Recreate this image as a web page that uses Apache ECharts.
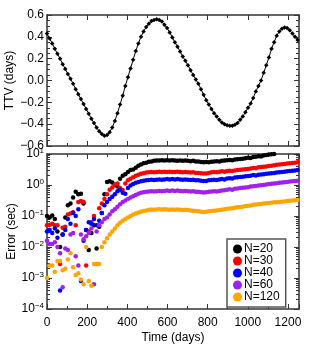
<!DOCTYPE html>
<html><head><meta charset="utf-8">
<script src="https://cdn.jsdelivr.net/npm/echarts@6/dist/echarts.min.js"></script>
<style>html,body{margin:0;padding:0;background:#fff}#c{width:315px;height:350px}</style>
</head><body><div id="c"></div>
<script>
// Observation times (days)
const times = [0,13,26,39,52,65,78,91,104,117,130,143,156,169,182,195,208,221,234,247,260,273,286,299,312,325,338,351,364,377,390,403,416,429,442,455,468,481,494,507,520,533,546,559,572,585,598,611,624,637,650,663,676,689,702,715,728,741,754,767,780,793,806,819,832,845,858,871,884,897,910,923,936,949,962,975,988,1001,1014,1027,1040,1053,1066,1079,1092,1105,1118,1131,1144,1157,1170,1183,1196,1209,1222,1235,1248];

// TTV (days)
const ttv = [0.43,0.385,0.34,0.29,0.245,0.20,0.15,0.105,0.06,0.015,-0.03,-0.08,-0.125,-0.17,-0.215,-0.26,-0.305,-0.35,-0.39,-0.43,-0.465,-0.49,-0.505,-0.50,-0.475,-0.43,-0.37,-0.30,-0.22,-0.14,-0.05,0.03,0.11,0.19,0.27,0.34,0.40,0.45,0.49,0.52,0.545,0.555,0.56,0.555,0.54,0.51,0.48,0.44,0.395,0.35,0.31,0.265,0.22,0.18,0.14,0.095,0.05,0.01,-0.03,-0.08,-0.13,-0.18,-0.22,-0.26,-0.30,-0.33,-0.36,-0.385,-0.40,-0.41,-0.415,-0.415,-0.405,-0.39,-0.36,-0.33,-0.29,-0.25,-0.21,-0.16,-0.10,-0.05,0.00,0.07,0.14,0.21,0.29,0.35,0.41,0.45,0.475,0.485,0.48,0.46,0.43,0.40,0.37];

// Timing errors, given as log10(sec)
const errN20 = [-1.0,-1.05,-0.98,-1.1,-1.5,-2.0,-1.6,-1.05,-0.65,-0.6,-0.4,-0.22,-0.3,-0.28,-0.6,-1.45,-2.1,-1.55,-1.3,-2.05,-1.35,-0.9,-0.3,0.1,0.12,0.08,0.0,-0.05,0.2,0.3,0.35,0.42,0.48,0.5,0.56,0.62,0.66,0.7,0.72,
0.75,0.76,0.78,0.79,0.79,0.8,0.79,0.8,0.79,0.8,0.79,0.78,0.79,0.78,0.79,0.78,0.77,0.78,0.76,0.76,0.74,0.73,0.74,0.73,0.75,0.76,0.77,0.76,0.78,0.79,0.8,0.81,0.8,0.82,0.83,0.84,0.85,0.86,0.88,0.87,0.9,0.91,0.93,0.92,0.95,0.97,0.98,0.99,1.0,1.02,1.03,1.04,1.05,1.06,1.07,1.08,1.09,1.1];
const errN30 = [-1.3,-1.28,-1.25,-1.3,-1.3,-2.55,-1.38,-1.35,-0.95,-0.92,-0.88,-1.3,-0.55,-0.52,-0.55,-2.6,-1.5,-1.2,-1.0,-2.55,-0.75,-0.6,-0.45,-0.3,-0.15,-0.08,0.02,0.05,-0.1,-0.16,0.05,0.15,0.2,0.25,0.3,0.33,0.36,0.38,0.4,
0.41,0.42,0.41,0.42,0.43,0.42,0.43,0.42,0.43,0.42,0.42,0.43,0.42,0.41,0.42,0.41,0.4,0.41,0.39,0.39,0.38,0.37,0.37,0.39,0.41,0.42,0.41,0.43,0.44,0.43,0.45,0.46,0.45,0.47,0.48,0.49,0.5,0.51,0.52,0.53,0.55,0.54,0.57,0.58,0.59,0.6,0.61,0.62,0.64,0.65,0.66,0.67,0.68,0.69,0.7,0.71,0.72,0.73];
const errN40 = [-1.5,-1.45,-1.55,-1.4,-1.7,-3.4,-1.6,-1.45,-1.1,-1.25,-0.9,-1.0,-0.78,-3.1,-1.8,-1.45,-1.2,-1.25,-1.1,-1.3,-1.15,-0.9,-0.65,-0.55,-0.45,-0.38,-0.3,-0.2,-0.15,-0.25,-0.28,-0.1,-0.02,0.03,0.07,0.1,0.12,0.14,0.15,
0.16,0.17,0.16,0.17,0.18,0.17,0.18,0.19,0.18,0.19,0.18,0.19,0.18,0.17,0.18,0.17,0.16,0.17,0.15,0.15,0.14,0.13,0.13,0.15,0.16,0.17,0.16,0.18,0.19,0.18,0.21,0.22,0.21,0.24,0.25,0.26,0.27,0.28,0.29,0.3,0.32,0.31,0.33,0.34,0.35,0.36,0.37,0.38,0.39,0.4,0.41,0.42,0.43,0.44,0.45,0.46,0.47,0.48];
const errN60 = [-1.8,-1.9,-1.9,-1.85,-2.0,-2.2,-3.3,-2.05,-2.1,-1.6,-1.55,-2.3,-2.6,-1.6,-1.75,-1.65,-1.55,-1.4,-3.2,-1.5,-1.3,-1.2,-1.1,-1.05,-0.95,-0.85,-0.78,-0.7,-0.62,-0.55,-0.5,-0.45,-0.4,-0.36,-0.32,-0.28,-0.25,-0.23,-0.22,
-0.21,-0.2,-0.21,-0.2,-0.19,-0.2,-0.19,-0.18,-0.19,-0.18,-0.19,-0.18,-0.19,-0.2,-0.19,-0.2,-0.21,-0.2,-0.22,-0.22,-0.23,-0.24,-0.23,-0.22,-0.21,-0.2,-0.21,-0.19,-0.18,-0.17,-0.15,-0.14,-0.15,-0.12,-0.11,-0.1,-0.09,-0.08,-0.07,-0.05,-0.04,-0.03,-0.02,-0.01,0.0,0.02,0.03,0.04,0.05,0.06,0.07,0.08,0.09,0.1,0.11,0.12,0.13,0.14];
const errN120 = [-3.0,-2.6,-2.6,-2.8,-2.45,-2.45,-2.75,-2.7,-2.4,-2.2,-2.65,-2.9,-2.85,-3.05,-3.2,-2.0,-3.1,-3.25,-2.55,-2.55,-2.55,-2.0,-1.85,-1.72,-1.6,-1.5,-1.4,-1.3,-1.22,-1.15,-1.1,-1.05,-1.0,-0.95,-0.92,-0.89,-0.86,-0.84,-0.82,
-0.8,-0.79,-0.8,-0.79,-0.78,-0.79,-0.78,-0.79,-0.8,-0.79,-0.8,-0.79,-0.8,-0.81,-0.8,-0.81,-0.82,-0.83,-0.84,-0.85,-0.86,-0.87,-0.86,-0.85,-0.84,-0.83,-0.82,-0.81,-0.8,-0.78,-0.77,-0.76,-0.75,-0.73,-0.72,-0.71,-0.7,-0.68,-0.67,-0.66,-0.64,-0.63,-0.62,-0.61,-0.6,-0.59,-0.58,-0.57,-0.56,-0.56,-0.55,-0.54,-0.53,-0.52,-0.51,-0.5,-0.49,-0.48];

const seriesNames = ['N=20','N=30','N=40','N=60','N=120'];
const seriesColors = ['#000000','#ff0000','#0000ff','#a020f0','#ffa500'];
const errSets = [errN20, errN30, errN40, errN60, errN120];

const FONT = 'Liberation Sans, Arial, Helvetica, sans-serif';
const frame = {show:true, onZero:false, lineStyle:{color:'#333', width:1.5}};
const tick = {show:true, inside:true, length:5, lineStyle:{color:'#333', width:1}};
function xAx(grid, pos, labels){
  return {type:'value', gridIndex:grid, position:pos, min:0, max:1255, interval:200,
    axisLine:frame, axisTick:tick,
    minorTick:{show:true, splitNumber:2, length:3, lineStyle:{color:'#333'}},
    splitLine:{show:false}, minorSplitLine:{show:false},
    axisLabel:{show:labels, showMaxLabel:false, color:'#000', fontSize:12, fontFamily:FONT, margin:8,
      formatter:v=>String(v)},
    name: labels ? 'Time (days)' : '', nameLocation:'middle', nameGap:23, nameMoveOverlap:false,
    nameTextStyle:{color:'#000', fontSize:12, fontFamily:FONT}};
}
function ttvY(pos, labels){
  return {type:'value', gridIndex:0, position:pos, min:-0.6, max:0.6, interval:0.2,
    axisLine:frame, axisTick:tick,
    minorTick:{show:true, splitNumber:4, length:3, lineStyle:{color:'#333'}},
    splitLine:{show:false}, minorSplitLine:{show:false},
    axisLabel:{show:labels, color:'#000', fontSize:12, fontFamily:FONT, margin:3,
      formatter:v=>{const s=Math.abs(v).toFixed(1); return (v<-1e-9?'\u2212':'')+s;}},
    name: labels ? 'TTV (days)' : '', nameLocation:'middle', nameGap:31, nameMoveOverlap:false,
    nameTextStyle:{color:'#000', fontSize:12, fontFamily:FONT}};
}
function errY(pos, labels){
  return {type:'log', logBase:10, gridIndex:1, position:pos, min:1e-4, max:10,
    axisLine:frame, axisTick:tick,
    minorTick:{show:true, splitNumber:9, length:3, lineStyle:{color:'#333'}},
    splitLine:{show:false}, minorSplitLine:{show:false},
    axisLabel:{show:labels, color:'#000', fontFamily:FONT, margin:3,
      formatter:v=>{const e=Math.round(Math.log10(v)); return '{b|10}{s|'+(e<0?'\u2212':'')+Math.abs(e)+'}';},
      rich:{b:{fontSize:12, fontFamily:FONT, color:'#000'}, s:{fontSize:8, fontFamily:FONT, color:'#000', verticalAlign:'bottom', padding:[0,0,7,0]}}},
    name: labels ? 'Error (sec)' : '', nameLocation:'middle', nameGap:29, nameMoveOverlap:false,
    nameTextStyle:{color:'#000', fontSize:12, fontFamily:FONT}};
}

const series = [{
  type:'line', xAxisIndex:0, yAxisIndex:0,
  data: times.map((t,i)=>[t, ttv[i]]),
  symbol:'diamond', symbolSize:4.5, showSymbol:true,
  lineStyle:{color:'#000', width:1}, itemStyle:{color:'#000'}, silent:true, animation:false
}];
errSets.forEach((arr, k)=>{
  series.push({type:'scatter', name:seriesNames[k], xAxisIndex:2, yAxisIndex:2,
    data: times.map((t,i)=>arr[i]==null?null:[t, Math.pow(10, arr[i])]).filter(Boolean),
    symbol:'circle', symbolSize:4.5, itemStyle:{color:seriesColors[k], opacity:1}, animation:false});
});

const chart = echarts.init(document.getElementById('c'), null, {renderer:'canvas'});
chart.setOption({
  animation:false,
  backgroundColor:'#fff',
  grid:[{left:47, top:15, width:252, height:131, containLabel:false, outerBoundsMode:'none'},
        {left:47, top:154, width:252, height:155, containLabel:false, outerBoundsMode:'none'}],
  xAxis:[xAx(0,'bottom',false), xAx(0,'top',false), xAx(1,'bottom',true), xAx(1,'top',false)],
  yAxis:[ttvY('left',true), ttvY('right',false), errY('left',true), errY('right',false)],
  legend:{data:seriesNames, orient:'vertical', left:227, top:239, itemWidth:9, itemHeight:9, itemGap:0,
    icon:'circle', backgroundColor:'#fff', borderColor:'#555', borderWidth:1.5, borderRadius:0,
    padding:[4,6,4,6], textStyle:{color:'#000', fontSize:12, fontFamily:FONT, padding:[0,0,0,-3]}},
  series
});
</script></body></html>
